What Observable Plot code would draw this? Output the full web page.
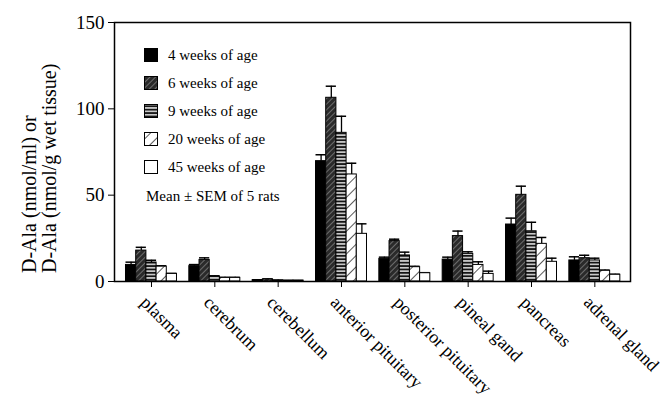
<!DOCTYPE html>
<html>
<head>
<meta charset="utf-8">
<script src="https://cdn.jsdelivr.net/npm/d3@7"></script>
<script src="https://cdn.jsdelivr.net/npm/@observablehq/plot@0.6"></script>
<style>
  html, body { margin: 0; padding: 0; background: white; }
</style>
</head>
<body>
<div id="chart"></div>
<script>
const organs = ["plasma", "cerebrum", "cerebellum", "anterior pituitary", "posterior pituitary", "pineal gand", "pancreas", "adrenal gland"];
const ages = ["4 weeks of age", "6 weeks of age", "9 weeks of age", "20 weeks of age", "45 weeks of age"];
const mean4 = [9.6, 8.9, 0.8, 69.7, 13.1, 12.7, 33.0, 12.2];
const mean6 = [17.9, 12.5, 1.2, 106.4, 23.4, 26.3, 50.2, 13.5];
const mean9 = [11.0, 2.9, 0.6, 86.1, 15.1, 16.0, 29.1, 12.2];
const mean20 = [8.6, 2.1, 0.5, 62.0, 8.3, 9.6, 21.8, 6.2];
const mean45 = [4.4, 2.1, 0.5, 27.6, 4.8, 4.4, 11.4, 3.9];
const sem4 = [1.6, 0.9, 0.2, 3.7, 1.0, 1.4, 3.7, 2.1];
const sem6 = [1.9, 1.2, 0.3, 6.7, 1.1, 2.9, 5.0, 1.7];
const sem9 = [1.3, 0.4, 0.2, 9.6, 1.9, 1.2, 5.2, 1.3];
const sem20 = [0.5, 0.3, 0.1, 6.5, 0.5, 1.8, 3.7, 0.4];
const sem45 = [0.3, 0.3, 0.1, 5.8, 0.3, 1.6, 2.1, 0.3];
const yTicks = [0, 50, 100, 150];
const yLabel1 = "D-Ala (nmol/ml) or";
const yLabel2 = "D-Ala (nmol/g wet tissue)";
const note = "Mean ± SEM of 5 rats";

const means = [mean4, mean6, mean9, mean20, mean45];
const sems = [sem4, sem6, sem9, sem20, sem45];
const fills = ["black", "url(#p6)", "url(#p9)", "url(#p20)", "white"];

const groupWidth = 0.805;
const barW = groupWidth / ages.length;
const rows = [];
ages.forEach((age, j) => {
  organs.forEach((organ, i) => {
    const x1 = i - groupWidth / 2 + j * barW;
    rows.push({age, j, organ, i, x1, x2: x1 + barW, xc: x1 + barW / 2,
      mean: means[j][i], top: means[j][i] + sems[j][i], fill: fills[j]});
  });
});

const marks = [];
ages.forEach((age, j) => {
  const d = rows.filter(r => r.j === j);
  marks.push(Plot.ruleX(d, {x: "xc", y1: "mean", y2: "top", stroke: "black", strokeWidth: 1.3}));
  marks.push(Plot.ruleY(d, {y: "top", x1: "x1", x2: "x2", stroke: "black", strokeWidth: 1.5}));
  marks.push(Plot.rectY(d, {x1: "x1", x2: "x2", y1: 0, y2: "mean", fill: fills[j], stroke: "black", strokeWidth: 1}));
});

const tickIdx = organs.map((_, i) => i);
const chart = Plot.plot({
  width: 665,
  height: 399,
  marginTop: 22,
  marginBottom: 118,
  marginLeft: 114,
  marginRight: 35,
  style: {fontFamily: "'Liberation Serif', 'Times New Roman', serif", fontSize: "19px", background: "white", color: "black"},
  x: {type: "linear", domain: [-0.584, 7.563]},
  y: {domain: [0, 150]},
  marks: [
    ...marks,
    Plot.frame({stroke: "black", strokeWidth: 1.5}),
    Plot.axisY({ticks: yTicks, tickSize: 6, tickPadding: 4, fontSize: 19, label: null}),
    Plot.axisX({ticks: tickIdx, tickFormat: () => "", tickSize: 6, label: null}),
    Plot.axisX({ticks: tickIdx, tickFormat: i => organs[i], tickRotate: 45, tickSize: 0, tickPadding: 18, dx: -8, fontSize: 18, label: null})
  ]
});

const svg = d3.select(chart);
const defs = svg.insert("defs", ":first-child");
// 6 weeks: dark with lighter diagonal hatch
const p6 = defs.append("pattern").attr("id", "p6").attr("patternUnits", "userSpaceOnUse")
  .attr("width", 4).attr("height", 4).attr("patternTransform", "rotate(45)");
p6.append("rect").attr("width", 4).attr("height", 4).attr("fill", "#2a2a2a");
p6.append("line").attr("x1", 0).attr("y1", 0).attr("x2", 0).attr("y2", 4).attr("stroke", "#9a9a9a").attr("stroke-width", 1.2);
// 9 weeks: horizontal stripes
const p9 = defs.append("pattern").attr("id", "p9").attr("patternUnits", "userSpaceOnUse")
  .attr("width", 4).attr("height", 3.4);
p9.append("rect").attr("width", 4).attr("height", 3.4).attr("fill", "#c8c8c8");
p9.append("rect").attr("width", 4).attr("height", 1.7).attr("fill", "#151515");
// 20 weeks: sparse diagonal lines on white
const p20 = defs.append("pattern").attr("id", "p20").attr("patternUnits", "userSpaceOnUse")
  .attr("width", 8).attr("height", 8).attr("patternTransform", "rotate(45)");
p20.append("rect").attr("width", 8).attr("height", 8).attr("fill", "white");
p20.append("line").attr("x1", 0).attr("y1", 0).attr("x2", 0).attr("y2", 8).attr("stroke", "black").attr("stroke-width", 1.3);

// y label (two lines)
const ff = "'Liberation Serif', 'Times New Roman', serif";
[[yLabel1, 36], [yLabel2, 56]].forEach(([t, xx]) => {
  svg.append("text").attr("transform", `translate(${xx},273) rotate(-90)`)
    .attr("text-anchor", "start").attr("font-family", ff).attr("font-size", 20).attr("fill", "black").text(t);
});

// legend inside plot
const lg = svg.append("g").attr("font-family", ff).attr("font-size", 15).attr("fill", "black").attr("text-anchor", "start");
ages.forEach((age, j) => {
  const cy = 55 + j * 28;
  lg.append("rect").attr("x", 144.5).attr("y", cy - 6.5).attr("width", 13).attr("height", 13)
    .attr("fill", fills[j]).attr("stroke", "black").attr("stroke-width", 1);
  lg.append("text").attr("x", 168).attr("y", cy + 5).attr("text-anchor", "start").text(age);
});
lg.append("text").attr("x", 146).attr("y", 201).attr("text-anchor", "start").text(note);

document.getElementById("chart").appendChild(chart);
</script>
</body>
</html>
